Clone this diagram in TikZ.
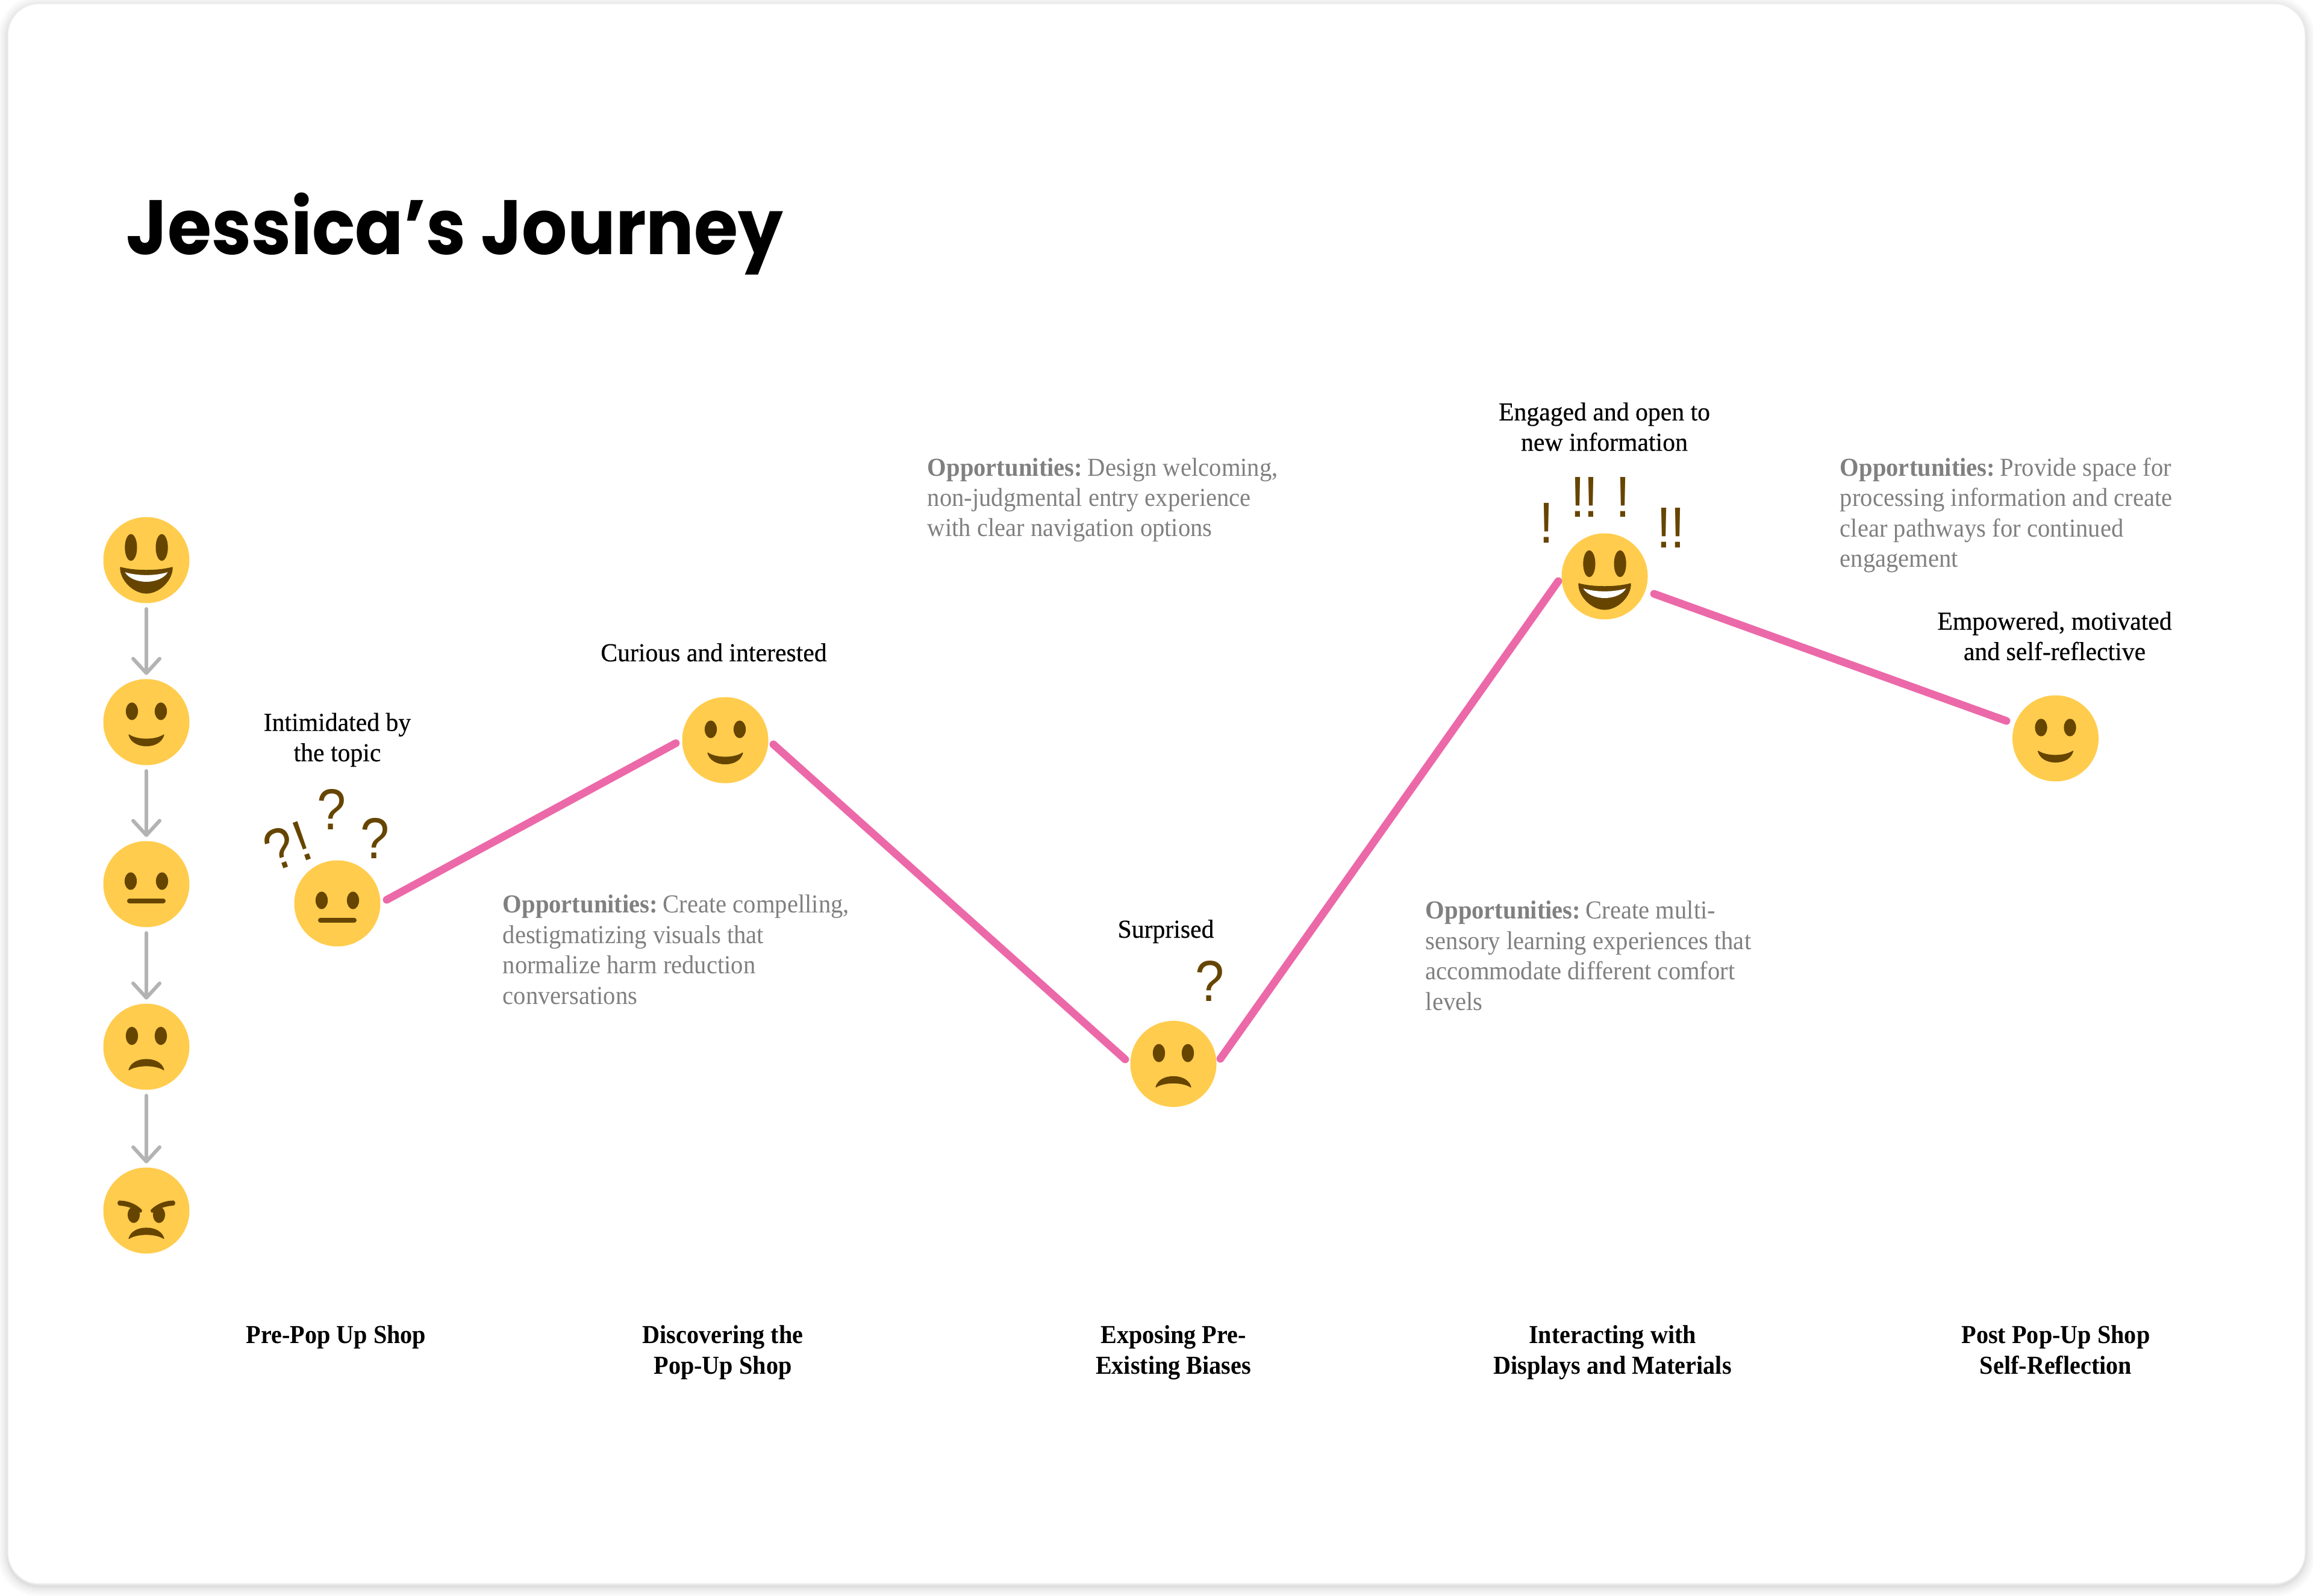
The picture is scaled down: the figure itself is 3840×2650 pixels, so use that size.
\documentclass[tikz,border=0pt]{standalone}
\usepackage{fontspec}
\usetikzlibrary{arrows.meta}
\setmainfont{Liberation Serif}
\newfontfamily\titlef{Poppins}[FakeStretch=0.925]
\newfontfamily\labelf{Liberation Serif}[FakeStretch=0.97,FakeBold=0.4]
\newfontfamily\stagef{Liberation Serif}[FakeStretch=0.935]
\newfontfamily\bodyf{Liberation Serif}[FakeStretch=0.945]
\newfontfamily\markf{Liberation Sans}[FakeStretch=0.9]
\newcommand{\opplead}{\textbf{Opportunities:}\hspace{-1.25pt} }
\definecolor{faceY}{HTML}{FFCC4D}
\definecolor{faceB}{HTML}{664500}
\definecolor{pinkL}{HTML}{EC69A9}
\definecolor{grayA}{HTML}{B3B3B3}
\definecolor{grayT}{HTML}{808080}
\tikzset{
  facebase/.style={circle,fill=faceY,inner sep=0pt,minimum size=35.75pt},
  feat/.style={fill=faceB,draw=faceB,line width=.3pt,line join=round},
  journey/.style={draw=pinkL,line width=3.2pt,line cap=round},
  levelarrow/.style={draw=grayA,line width=1.5pt,line cap=round,
    -{Straight Barb[length=6pt,width=11pt,round,line width=1.5pt]},shorten <=2.2pt,shorten >=1.5pt},
  mood/.style={anchor=base,align=center,inner sep=0pt,text=black,font=\labelf\fontsize{10.75}{12.6}\selectfont},
  stage/.style={anchor=base,align=center,inner sep=0pt,text=black,font=\stagef\bfseries\fontsize{10.75}{12.6}\selectfont},
  oppo/.style={anchor=base west,align=left,inner sep=0pt,text=grayT,font=\bodyf\fontsize{10.75}{12.6}\selectfont},
  markq/.style={anchor=base,inner sep=0pt,text=faceB,font=\markf\fontsize{24}{24}\selectfont},
}
\newcommand{\eyes}[3]{\fill[feat] (-#1,#2) ellipse [x radius=9.5,y radius=#3];\fill[feat] (#1,#2) ellipse [x radius=9.5,y radius=#3];}
\newcommand{\grinface}[1]{\begin{scope}[shift={(#1.center)}]
  \eyes{25.6}{-21}{21.5}
  \fill[feat] (-43,12) .. controls (-20,18.5) and (20,18.5) .. (43,12) .. controls (44,32) and (22,55) .. (0,55) .. controls (-22,55) and (-44,32) .. (-43,12) -- cycle;
  \fill[white] (-35.5,20) .. controls (-15,26.5) and (15,26.5) .. (35.5,20) .. controls (30,30) and (15,36) .. (0,36) .. controls (-15,36) and (-30,30) .. (-35.5,20) -- cycle;
\end{scope}}
\newcommand{\smileface}[1]{\begin{scope}[shift={(#1.center)}]
  \eyes{24}{-18}{14}
  \fill[feat] (-29,21) .. controls (-15,30.5) and (15,30.5) .. (29,21) .. controls (26,33) and (14,39.5) .. (0,39.5) .. controls (-14,39.5) and (-26,33) .. (-29,21) -- cycle;
\end{scope}}
\newcommand{\plainface}[1]{\begin{scope}[shift={(#1.center)}]
  \eyes{26}{-5}{14}
  \draw[faceB,line width=2pt,line cap=round] (-28,28) -- (28,28);
\end{scope}}
\newcommand{\frownpath}{(-29,38.5) .. controls (-26,27) and (-14,21) .. (0,21) .. controls (14,21) and (26,27) .. (29,38.5) .. controls (15,29.5) and (-15,29.5) .. (-29,38.5) -- cycle}
\newcommand{\sadface}[1]{\begin{scope}[shift={(#1.center)}]
  \eyes{24}{-18}{14.5}
  \fill[feat] \frownpath;
\end{scope}}
\newcommand{\angryface}[1]{\begin{scope}[shift={(#1.center)}]
  \fill[feat] (-21,7) ellipse [x radius=9.5,y radius=13];
  \fill[feat] (21,7) ellipse [x radius=9.5,y radius=13];
  \fill[feat] (-45,-16) .. controls (-32,-16) and (-18,-11) .. (-8,-1) .. controls (-7,1) and (-8,3) .. (-10,3) .. controls (-20,-4) and (-32,-8) .. (-45,-9) .. controls (-48,-10) and (-48,-15) .. (-45,-16) -- cycle;
  \fill[feat] (45,-16) .. controls (32,-16) and (18,-11) .. (8,-1) .. controls (7,1) and (8,3) .. (10,3) .. controls (20,-4) and (32,-8) .. (45,-9) .. controls (48,-10) and (48,-15) .. (45,-16) -- cycle;
  \begin{scope}[yshift=-2pt]\fill[feat] \frownpath;\end{scope}
\end{scope}}
\begin{document}
\begin{tikzpicture}[x=.25pt,y=-.25pt]
\useasboundingbox (0,0) rectangle (3840,2650);
\fill[white] (0,0) rectangle (3840,2650);
% card with soft shadow
\foreach \w in {34,28,22,17,12,8,5,3}{
  \draw[black,opacity=.014,line width=\w*.25pt,rounded corners=13pt] (13,10) rectangle (3827,2634);
}
\draw[black!7,line width=.4pt,fill=white,rounded corners=13pt] (13,6) rectangle (3827,2630);
% title
\node[anchor=base west,inner sep=0pt,font=\titlef\bfseries\fontsize{32}{40}\selectfont] (title) at (209,423) {Jessica’s Journey};
% scale faces
\node[facebase] (s1) at (243,930) {};
\node[facebase] (s2) at (243,1199) {};
\node[facebase] (s3) at (243,1468) {};
\node[facebase] (s4) at (243,1738) {};
\node[facebase] (s5) at (243,2010) {};
\grinface{s1}\smileface{s2}\plainface{s3}\sadface{s4}\angryface{s5}
\draw[levelarrow] (s1) -- (s2);
\draw[levelarrow] (s2) -- (s3);
\draw[levelarrow] (s3) -- (s4);
\draw[levelarrow] (s4) -- (s5);
% journey faces
\node[facebase] (j1) at (560,1500) {};
\node[facebase] (j2) at (1204,1229) {};
\node[facebase] (j3) at (1948,1766.5) {};
\node[facebase] (j4) at (2664,957) {};
\node[facebase] (j5) at (3412.5,1226) {};
\plainface{j1}\smileface{j2}\sadface{j3}\grinface{j4}\smileface{j5}
% journey line
\coordinate (a1) at (642,1494);
\coordinate (b1) at (1122,1234);
\coordinate (a2) at (1284,1236);
\coordinate (b2) at (1868,1759);
\coordinate (a3) at (2026,1758);
\coordinate (b3) at (2587,965);
\coordinate (a4) at (2746,986);
\coordinate (b4) at (3331,1197);
\draw[journey] (a1) -- (b1);
\draw[journey] (a2) -- (b2);
\draw[journey] (a3) -- (b3);
\draw[journey] (a4) -- (b4);
% mood labels (base anchor is the last line)
\node[mood] (m1) at (560,1264) {Intimidated by\\the topic};
\node[mood] (m2) at (1185,1098) {Curious and interested};
\node[mood] (m3) at (1935.5,1557) {Surprised};
\node[mood] (m4) at (2663.5,748.5) {Engaged and open to\\new information};
\node[mood] (m5) at (3411,1096) {Empowered, motivated\\and self-reflective};
% marks
\node[markq] (q1) at (551,1377) {?};
\node[markq] (q2) at (622.5,1425.5) {?};
\node[markq,rotate=20] (q3) at (476,1440) {?};
\node[markq,rotate=20] (q4) at (513,1427) {!};
\node[markq] (q5) at (2008.5,1662) {?};
\node[markq] (e1) at (2567,902) {!};
\node[markq] (e2) at (2630.5,859) {!\kern-.4pt!};
\node[markq] (e3) at (2694.5,859) {!};
\node[markq] (e4) at (2774,910) {!\kern-.4pt!};
% opportunities
\node[oppo] (o1) at (834,1667) {\opplead Create compelling,\\destigmatizing visuals that\\normalize harm reduction\\conversations};
\node[oppo] (o2) at (1539,891) {\opplead Design welcoming,\\non-judgmental entry experience\\with clear navigation options};
\node[oppo] (o3) at (2366,1677) {\opplead Create multi-\\sensory learning experiences that\\accommodate different comfort\\levels};
\node[oppo] (o4) at (3054,941.5) {\opplead Provide space for\\processing information and create\\clear pathways for continued\\engagement};
% stages
\node[stage] (t1) at (558,2230) {Pre-Pop Up Shop};
\node[stage] (t2) at (1200,2281) {Discovering the\\Pop-Up Shop};
\node[stage] (t3) at (1948,2281) {Exposing Pre-\\Existing Biases};
\node[stage] (t4) at (2677,2281) {Interacting with\\Displays and Materials};
\node[stage] (t5) at (3413,2281) {Post Pop-Up Shop\\Self-Reflection};
\end{tikzpicture}
\end{document}
